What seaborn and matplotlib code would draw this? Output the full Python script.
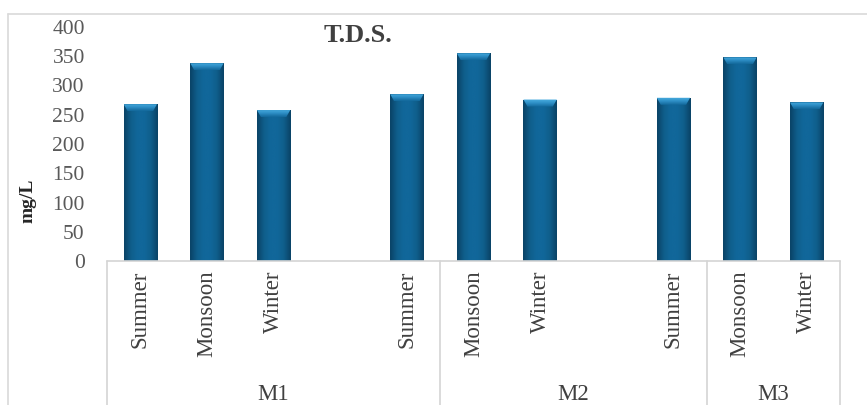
import numpy as np
import pandas as pd
import matplotlib
matplotlib.use("Agg")
import matplotlib.pyplot as plt
import matplotlib.transforms as mtransforms
from matplotlib.colors import LinearSegmentedColormap
import seaborn as sns

# ---- data ----
sites = ["M1", "M2", "M3"]
seasons = ["Summer", "Monsoon", "Winter"]
m1_values = [268, 338, 258]
m2_values = [285, 355, 276]
m3_values = [279, 348, 271]
# category axis slots as in the original (with blank slots between sites)
slot_labels = ["Summer", "Monsoon", "Winter", "", "Summer", "Monsoon", "Winter",
               "", "Summer", "Monsoon", "Winter"]
# the original's group header boxes (number of slots under each header)
group_labels = ["M1", "M2", "M3"]
group_spans = [5, 4, 2]
title = "T.D.S."
ylabel = "mg/L"
yticks = [0, 50, 100, 150, 200, 250, 300, 350, 400]

rows = []
for site, vals in zip(sites, [m1_values, m2_values, m3_values]):
    for season, v in zip(seasons, vals):
        rows.append({"slot": f"{site}-{season}", "value": v})
df = pd.DataFrame(rows)
order = []
for i, site in enumerate(sites):
    order += [f"{site}-{s}" for s in seasons]
    if i < len(sites) - 1:
        order.append(f"gap{i}")

sns.set_theme(style="white")
plt.rcParams["font.family"] = ["Liberation Serif", "DejaVu Serif"]

W, H, DPI = 867, 405, 100
fig = plt.figure(figsize=(W / DPI, H / DPI), dpi=DPI)
ax = fig.add_axes([107 / W, 1 - 261 / H, (840 - 107) / W, (261 - 27) / H])

sns.barplot(data=df, x="slot", y="value", order=order, color="#0f6390",
            saturation=1, width=0.5, ax=ax, errorbar=None)

ax.set_xlim(-0.5, len(order) - 0.5)
ax.set_ylim(0, 400)
ax.set_xlabel("")
ax.set_ylabel("")
for sp in ax.spines.values():
    sp.set_visible(False)

# gradient shading for bars (Excel bevel style)
body_cmap = LinearSegmentedColormap.from_list(
    "body", ["#0a4366", "#0f5e8b", "#11679a", "#11679a", "#0f5e8b", "#0a4366"])
xs = np.linspace(0, 1, 64)
body_img = body_cmap(xs)[np.newaxis, :, :]
bevel_cmap = LinearSegmentedColormap.from_list("bevel", ["#13699b", "#2e8fc6", "#4aaee0"])
bevel_img = bevel_cmap(np.linspace(0, 1, 16))[:, np.newaxis, :]
for p in list(ax.patches):
    x0 = p.get_x()
    w = p.get_width()
    h = p.get_height()
    if not np.isfinite(h) or h <= 0:
        continue
    im = ax.imshow(body_img, extent=(x0, x0 + w, 0, h), aspect="auto",
                   zorder=p.get_zorder() + 0.1, interpolation="bicubic")
    im.set_clip_path(p)
    bev_h = 12
    poly = plt.Polygon([[x0, h], [x0 + w, h], [x0 + w * 0.88, h - bev_h],
                        [x0 + w * 0.12, h - bev_h]], closed=True,
                       transform=ax.transData)
    bim = ax.imshow(bevel_img, extent=(x0, x0 + w, h - bev_h, h), aspect="auto",
                    origin="lower", zorder=p.get_zorder() + 0.2,
                    interpolation="bicubic")
    bim.set_clip_path(poly)
ax.set_xlim(-0.5, len(order) - 0.5)
ax.set_ylim(0, 400)

# ticks
ax.set_xticks(range(len(slot_labels)))
ax.set_xticklabels(slot_labels, rotation=90, fontsize=16.5, color="#404040")
ax.set_yticks(yticks)
ax.set_yticklabels([str(t) for t in yticks], fontsize=15.5, color="#595959")
ax.tick_params(axis="x", length=0, pad=7)
ax.tick_params(axis="y", length=0, pad=16)

grid_col = "#d4d4d4"
# horizontal category axis line
ax.plot([-0.5, len(order) - 0.5], [0, 0], color=grid_col, lw=1.2,
        clip_on=False, zorder=5)
# group separators
xt = ax.get_xaxis_transform()
bottom_axes = -(1 - 261 / H) / ((261 - 27) / H) - 0.05
bounds = [-0.5]
for s in group_spans:
    bounds.append(bounds[-1] + s)
for b in bounds:
    ax.plot([b, b], [0, bottom_axes], color=grid_col, lw=1.2,
            transform=xt, clip_on=False)
# group labels
bt = mtransforms.blended_transform_factory(ax.transData, fig.transFigure)
for lab, a, b in zip(group_labels, bounds[:-1], bounds[1:]):
    ax.text((a + b) / 2, 1 - 394 / H, lab, transform=bt, ha="center",
            va="center", fontsize=16.5, color="#404040")

# outer chart border (top & left)
fig.add_artist(plt.Line2D([8 / W, 1], [1 - 14 / H, 1 - 14 / H],
                          transform=fig.transFigure, color="#d9d9d9", lw=1.2))
fig.add_artist(plt.Line2D([8 / W, 8 / W], [0, 1 - 14 / H],
                          transform=fig.transFigure, color="#d9d9d9", lw=1.2))

# title and y label
fig.text(358 / W, 1 - 35 / H, title, ha="center", va="center", fontsize=19,
         fontweight="bold", color="#404040")
fig.text(28 / W, 1 - 201 / H, ylabel, ha="center", va="center", rotation=90,
         fontsize=14, fontweight="bold", color="#262626")

fig.savefig("out.png", dpi=DPI)
